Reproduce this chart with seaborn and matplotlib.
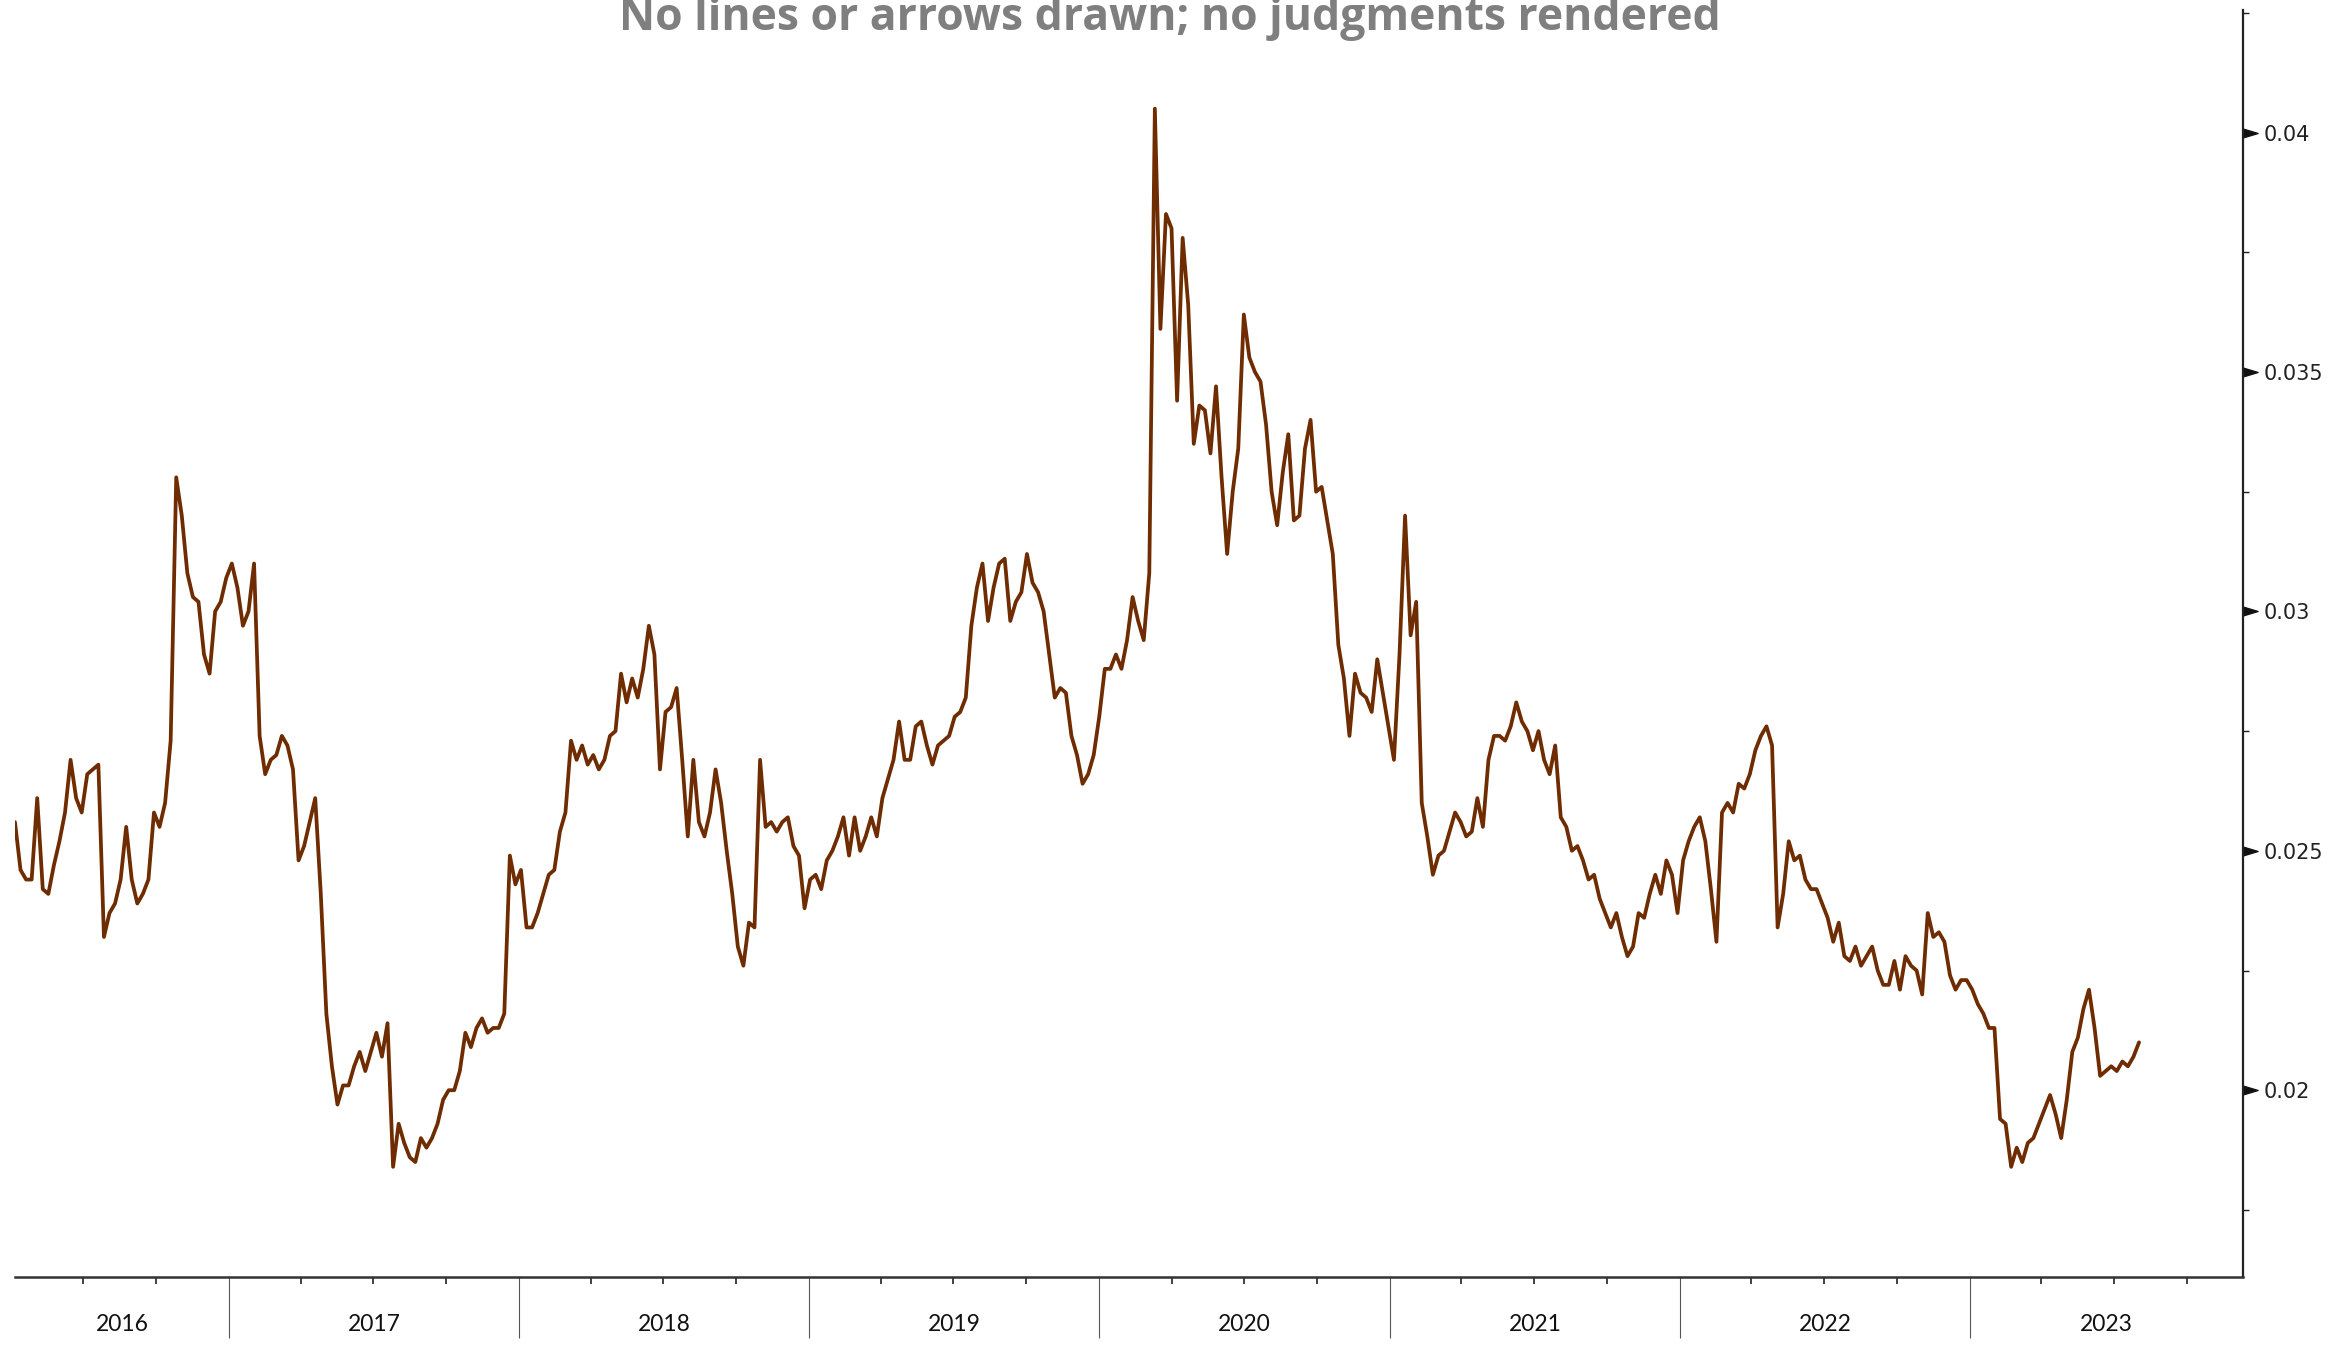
import numpy as np
import pandas as pd
import seaborn as sns
import matplotlib.dates as mdates
import matplotlib.ticker as mticker

from matplotlib import pyplot as plt
from matplotlib.markers import MarkerStyle
from matplotlib.path import Path

sns.set_style("white")
plt.rcParams["font.family"] = ["DejaVu Sans"]

TITLE = "No lines or arrows drawn; no judgments rendered"
START = "2016-04-06"   # first weekly observation
END_VIEW = "2023-12-11"  # right edge of the x axis

# weekly values, split by calendar year
v2016 = [0.0256, 0.0246, 0.0244, 0.0244, 0.0261, 0.0242, 0.0241, 0.0247, 0.0252, 0.0258,
         0.0269, 0.0261, 0.0258, 0.0266, 0.0267, 0.0268, 0.0232, 0.0237, 0.0239, 0.0244,
         0.0255, 0.0244, 0.0239, 0.0241, 0.0244, 0.0258, 0.0255, 0.0260, 0.0273, 0.0328,
         0.0320, 0.0308, 0.0303, 0.0302, 0.0291, 0.0287, 0.0300, 0.0302, 0.0307]
v2017 = [0.0310, 0.0305, 0.0297, 0.0300, 0.0310, 0.0274, 0.0266, 0.0269, 0.0270, 0.0274,
         0.0272, 0.0267, 0.0248, 0.0251, 0.0256, 0.0261, 0.0241, 0.0216, 0.0205, 0.0197,
         0.0201, 0.0201, 0.0205, 0.0208, 0.0204, 0.0208, 0.0212, 0.0207, 0.0214, 0.0184,
         0.0193, 0.0189, 0.0186, 0.0185, 0.0190, 0.0188, 0.0190, 0.0193, 0.0198, 0.0200,
         0.0200, 0.0204, 0.0212, 0.0209, 0.0213, 0.0215, 0.0212, 0.0213, 0.0213, 0.0216,
         0.0249, 0.0243]
v2018 = [0.0246, 0.0234, 0.0234, 0.0237, 0.0241, 0.0245, 0.0246, 0.0254, 0.0258, 0.0273,
         0.0269, 0.0272, 0.0268, 0.0270, 0.0267, 0.0269, 0.0274, 0.0275, 0.0287, 0.0281,
         0.0286, 0.0282, 0.0288, 0.0297, 0.0291, 0.0267, 0.0279, 0.0280, 0.0284, 0.0269,
         0.0253, 0.0269, 0.0256, 0.0253, 0.0258, 0.0267, 0.0260, 0.0250, 0.0241, 0.0230,
         0.0226, 0.0235, 0.0234, 0.0269, 0.0255, 0.0256, 0.0254, 0.0256, 0.0257, 0.0251,
         0.0249, 0.0238]
v2019 = [0.0244, 0.0245, 0.0242, 0.0248, 0.0250, 0.0253, 0.0257, 0.0249, 0.0257, 0.0250,
         0.0253, 0.0257, 0.0253, 0.0261, 0.0265, 0.0269, 0.0277, 0.0269, 0.0269, 0.0276,
         0.0277, 0.0272, 0.0268, 0.0272, 0.0273, 0.0274, 0.0278, 0.0279, 0.0282, 0.0297,
         0.0305, 0.0310, 0.0298, 0.0305, 0.0310, 0.0311, 0.0298, 0.0302, 0.0304, 0.0312,
         0.0306, 0.0304, 0.0300, 0.0291, 0.0282, 0.0284, 0.0283, 0.0274, 0.0270, 0.0264,
         0.0266, 0.0270]
v2020 = [0.0278, 0.0288, 0.0288, 0.0291, 0.0288, 0.0294, 0.0303, 0.0298, 0.0294, 0.0308,
         0.0405, 0.0359, 0.0383, 0.0380, 0.0344, 0.0378, 0.0364, 0.0335, 0.0343, 0.0342,
         0.0333, 0.0347, 0.0328, 0.0312, 0.0325, 0.0334, 0.0362, 0.0353, 0.0350, 0.0348,
         0.0339, 0.0325, 0.0318, 0.0329, 0.0337, 0.0319, 0.0320, 0.0334, 0.0340, 0.0325,
         0.0326, 0.0319, 0.0312, 0.0293, 0.0286, 0.0274, 0.0287, 0.0283, 0.0282, 0.0279,
         0.0290, 0.0283, 0.0276]
v2021 = [0.0269, 0.0291, 0.0320, 0.0295, 0.0302, 0.0260, 0.0253, 0.0245, 0.0249, 0.0250,
         0.0254, 0.0258, 0.0256, 0.0253, 0.0254, 0.0261, 0.0255, 0.0269, 0.0274, 0.0274,
         0.0273, 0.0276, 0.0281, 0.0277, 0.0275, 0.0271, 0.0275, 0.0269, 0.0266, 0.0272,
         0.0257, 0.0255, 0.0250, 0.0251, 0.0248, 0.0244, 0.0245, 0.0240, 0.0237, 0.0234,
         0.0237, 0.0232, 0.0228, 0.0230, 0.0237, 0.0236, 0.0241, 0.0245, 0.0241, 0.0248,
         0.0245, 0.0237]
v2022 = [0.0248, 0.0252, 0.0255, 0.0257, 0.0252, 0.0242, 0.0231, 0.0258, 0.0260, 0.0258,
         0.0264, 0.0263, 0.0266, 0.0271, 0.0274, 0.0276, 0.0272, 0.0234, 0.0241, 0.0252,
         0.0248, 0.0249, 0.0244, 0.0242, 0.0242, 0.0239, 0.0236, 0.0231, 0.0235, 0.0228,
         0.0227, 0.0230, 0.0226, 0.0228, 0.0230, 0.0225, 0.0222, 0.0222, 0.0227, 0.0221,
         0.0228, 0.0226, 0.0225, 0.0220, 0.0237, 0.0232, 0.0233, 0.0231, 0.0224, 0.0221,
         0.0223, 0.0223]
v2023 = [0.0221, 0.0218, 0.0216, 0.0213, 0.0213, 0.0194, 0.0193, 0.0184, 0.0188, 0.0185,
         0.0189, 0.0190, 0.0193, 0.0196, 0.0199, 0.0195, 0.0190, 0.0198, 0.0208, 0.0211,
         0.0217, 0.0221, 0.0213, 0.0203, 0.0204, 0.0205, 0.0204, 0.0206, 0.0205, 0.0207,
         0.0210]

y_major = [0.02, 0.025, 0.03, 0.035, 0.04]
y_minor = [0.0175, 0.0225, 0.0275, 0.0325, 0.0375, 0.0425]
years = [2016, 2017, 2018, 2019, 2020, 2021, 2022, 2023]

values = v2016 + v2017 + v2018 + v2019 + v2020 + v2021 + v2022 + v2023
df = pd.DataFrame({
    "date": pd.date_range(START, periods=len(values), freq="7D"),
    "value": values,
})

fig = plt.figure(figsize=(23.39, 13.52), dpi=100)
ax = fig.add_axes([0.0064, 0.0555, 0.9526, 0.9371])

sns.lineplot(data=df, x="date", y="value", color="#6E2C00", lw=2.7, ax=ax)

x0, x1 = pd.Timestamp(START), pd.Timestamp(END_VIEW)
ax.set_xlim(x0, x1)
ax.set_ylim(0.0161, 0.04256)
ax.set_xlabel("")
ax.set_ylabel("")

# spines
ax.spines["top"].set_visible(False)
ax.spines["left"].set_visible(False)
ax.spines["right"].set_color("#222222")
ax.spines["right"].set_linewidth(1.6)
ax.spines["bottom"].set_color("#333333")
ax.spines["bottom"].set_linewidth(1.8)

# y axis on the right
ax.yaxis.set_major_locator(mticker.FixedLocator(y_major))
ax.yaxis.set_minor_locator(mticker.FixedLocator(y_minor))
ax.yaxis.set_major_formatter(mticker.FuncFormatter(lambda v, p: f"{v:g}"))
ax.tick_params(axis="y", which="both", left=False, right=True,
               labelleft=False, labelright=True, direction="out", color="#222222")
ax.tick_params(axis="y", which="major", length=11, width=1, pad=4,
               labelsize=15, labelcolor="#222222")
ax.tick_params(axis="y", which="minor", length=4.5, width=1)

# x axis: year separators + quarterly ticks, labels centred in each year
ax.xaxis.set_major_locator(mdates.YearLocator())
ax.xaxis.set_minor_locator(mdates.MonthLocator(bymonth=[4, 7, 10]))
ax.xaxis.set_major_formatter(mticker.NullFormatter())
ax.tick_params(axis="x", which="major", bottom=True, direction="out",
               length=44, width=0.8, color="#555555", labelbottom=False)
ax.tick_params(axis="x", which="minor", bottom=True, direction="out",
               length=5, width=1.2, color="#222222")

for yr in years:
    lo = max(pd.Timestamp(f"{yr}-01-01"), x0)
    hi = min(pd.Timestamp(f"{yr + 1}-01-01"), x1)
    mid = lo + (hi - lo) / 2
    ax.annotate(str(yr), xy=(mdates.date2num(mid), 0), xycoords=("data", "axes fraction"),
                xytext=(0, -34.5), textcoords="offset points", ha="center", va="center",
                fontsize=16.5, family=["Lato", "DejaVu Sans"], color="#111111")

# triangular major ticks on the right axis
tri = Path([(0, -0.3), (0, 0.3), (1, 0), (0, -0.3)],
           [Path.MOVETO, Path.LINETO, Path.LINETO, Path.CLOSEPOLY])
for t in ax.yaxis.get_major_ticks():
    t.tick2line.set_marker(MarkerStyle(tri))
    t.tick2line.set_markersize(21)
    t.tick2line.set_markerfacecolor("#111111")
    t.tick2line.set_markeredgecolor("#111111")

fig.text(0.5, 1 - 30 / 1352, TITLE, ha="center", va="baseline", fontsize=32,
         fontweight="bold", color="#7F7F7F", family=["Open Sans", "DejaVu Sans"])

fig.savefig("out.png", dpi=100)
